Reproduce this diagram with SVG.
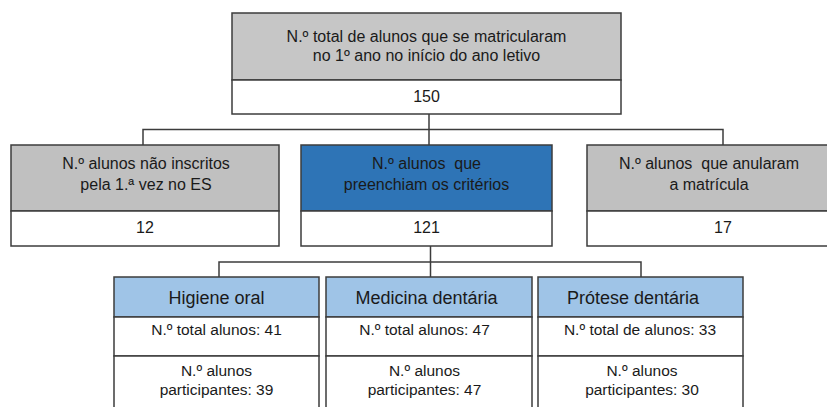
<svg xmlns="http://www.w3.org/2000/svg" width="827" height="407" viewBox="0 0 827 407">
<style>
text{font-family:"Liberation Sans",Arial,sans-serif;font-size:15.5px;fill:#1a1a1a;text-anchor:middle}
.m{font-size:16px}
.h{font-size:18px}
.box{stroke:#3c3c3c;stroke-width:1.5}
.grey{fill:#c6c6c6}
.grey2{fill:#c0c0c0}
.blue{fill:#2e74b6}
.lblue{fill:#9fc4e7}
.white{fill:#ffffff}
.con{stroke:#3c3c3c;stroke-width:1.5;fill:none}
</style>
<rect width="827" height="407" fill="#ffffff"/>
<g id="connectors">
<path class="con" d="M429 114V145M143 145V129.5H723V145"/>
<path class="con" d="M430.5 246V277M219 277V262H641V277"/>
</g>
<g id="top">
<rect class="box grey" x="232" y="13" width="389" height="67"/>
<rect class="box white" x="232" y="80" width="389" height="34"/>
<text class="m" x="426.5" y="42">N.º total de alunos que se matricularam</text>
<text class="m" x="426.5" y="61">no 1º ano no início do ano letivo</text>
<text class="m" x="426.5" y="102">150</text>
</g>
<g id="nao-inscritos">
<rect class="box grey2" x="11" y="145" width="268" height="66"/>
<rect class="box white" x="11" y="211" width="268" height="35"/>
<text class="m" x="146" y="169">N.º alunos não inscritos</text>
<text class="m" x="146" y="190">pela 1.ª vez no ES</text>
<text class="m" x="145" y="233">12</text>
</g>
<g id="criterios">
<rect class="box blue" x="301" y="145" width="251" height="66"/>
<rect class="box white" x="301" y="211" width="251" height="35"/>
<text class="m" x="426.5" y="169" xml:space="preserve">N.º alunos  que</text>
<text class="m" x="426.5" y="190">preenchiam os critérios</text>
<text class="m" x="426.5" y="233">121</text>
</g>
<g id="anularam">
<rect class="box grey2" x="587" y="145" width="272" height="66"/>
<rect class="box white" x="587" y="211" width="272" height="35"/>
<text class="m" x="709" y="169" xml:space="preserve">N.º alunos  que anularam</text>
<text class="m" x="709" y="190">a matrícula</text>
<text class="m" x="723" y="233">17</text>
</g>
<g id="higiene">
<rect class="box lblue" x="114" y="277" width="205" height="40"/>
<rect class="box white" x="114" y="317" width="205" height="39"/>
<rect class="box white" x="114" y="356" width="205" height="60"/>
<text class="h" x="216.5" y="304">Higiene oral</text>
<text x="216.5" y="335">N.º total alunos: 41</text>
<text x="216.5" y="376">N.º alunos</text>
<text x="216.5" y="395">participantes: 39</text>
</g>
<g id="medicina">
<rect class="box lblue" x="326" y="277" width="206" height="40"/>
<rect class="box white" x="326" y="317" width="206" height="39"/>
<rect class="box white" x="326" y="356" width="206" height="60"/>
<text class="h" x="426.5" y="304">Medicina dentária</text>
<text x="424.5" y="335">N.º total alunos: 47</text>
<text x="424.5" y="376">N.º alunos</text>
<text x="424.5" y="395">participantes: 47</text>
</g>
<g id="protese">
<rect class="box lblue" x="538" y="277" width="205" height="40"/>
<rect class="box white" x="538" y="317" width="205" height="39"/>
<rect class="box white" x="538" y="356" width="205" height="60"/>
<text class="h" x="633" y="304">Prótese dentária</text>
<text x="640" y="335">N.º total de alunos: 33</text>
<text x="642" y="376">N.º alunos</text>
<text x="642" y="395">participantes: 30</text>
</g>
</svg>
